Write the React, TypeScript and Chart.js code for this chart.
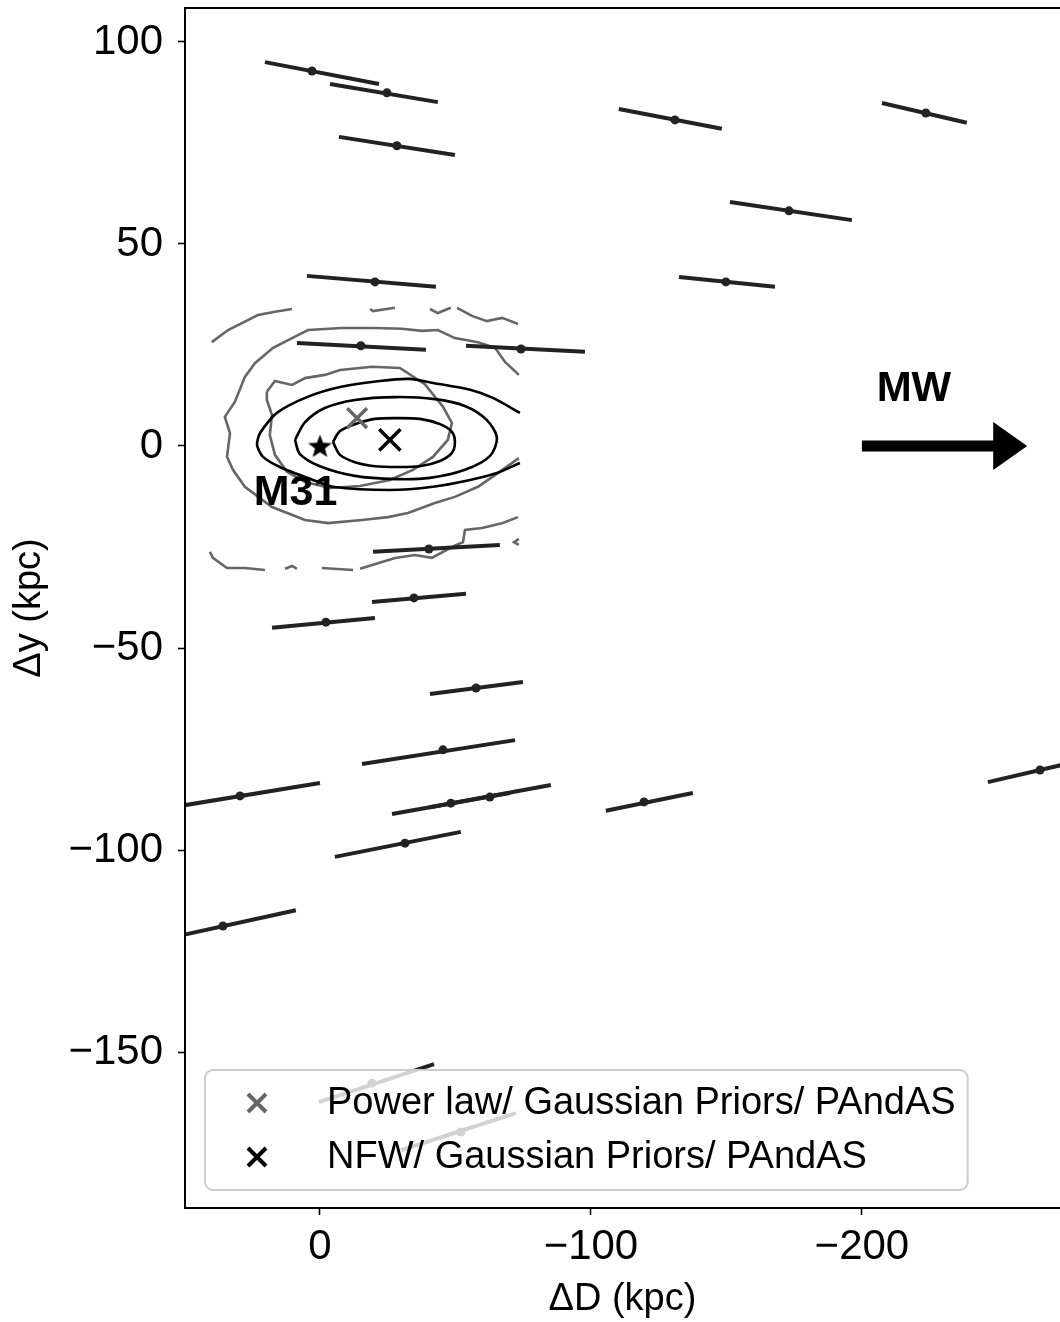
import React, { useEffect, useRef } from 'react';
import { Chart, registerables } from 'chart.js';

Chart.register(...registerables);

// ---------- axes ----------
const X_MIN = -273.1;
const X_MAX = 49.8;
const Y_MIN = -188.6;
const Y_MAX = 108.4;
const xTickValues = [0, -100, -200];
const yTickValues = [100, 50, 0, -50, -100, -150];
const xAxisTitle = 'ΔD (kpc)';
const yAxisTitle = 'Δy (kpc)';

// ---------- satellites (centre + ends of distance error segment) ----------
const satX = [2.95, -24.7, -28.4, -131.0, -223.6, -173.1, -20.3, -149.8, -15.1, -74.2, -40.2, -34.7, -2.2, -57.6, -45.4, 29.5, -48.3, -62.7, -119.6, -31.4, 35.8, -265.7, -19.2, -52.0];
const satY = [92.8, 87.4, 74.3, 80.7, 82.4, 58.2, 40.6, 40.6, 24.8, 24.0, -25.5, -37.6, -43.6, -59.9, -75.2, -86.6, -88.4, -86.9, -88.1, -98.3, -118.8, -80.2, -157.7, -169.8];
const satX1 = [20.3, -3.7, -7.0, -110.3, -207.4, -151.3, 4.8, -132.5, 8.5, -53.9, -19.6, -19.2, 17.7, -40.6, -15.5, 59.0, -26.6, -40.6, -105.5, -5.5, 62.7, -246.5, 0.4, -29.9];
const satY1 = [95.0, 89.6, 76.5, 83.4, 84.9, 60.4, 42.1, 41.8, 25.5, 24.8, -26.2, -38.6, -45.0, -61.4, -78.7, -89.9, -91.1, -89.4, -90.3, -101.7, -122.8, -83.2, -162.4, -174.3];
const satX2 = [-21.8, -43.5, -49.8, -148.3, -238.7, -196.3, -42.8, -167.9, -39.1, -97.8, -66.4, -53.9, -20.3, -74.9, -72.0, 0.0, -70.1, -85.2, -137.6, -52.0, 8.9, -284.9, -42.1, -72.3];
const satY2 = [89.6, 85.1, 72.0, 78.5, 80.0, 55.9, 39.4, 39.4, 23.8, 23.3, -24.5, -36.6, -42.6, -58.4, -72.8, -83.4, -85.9, -83.9, -85.9, -95.5, -114.9, -77.2, -153.0, -165.1];

// ---------- best fits ----------
const m31Pos = [0, 0];
const nfwBest = [-25.8, 1.5];
const powerLawBest = [-13.7, 6.9];

// ---------- NFW contours (black) ----------
const nfwInner = [[-4.8, 1.0], [-7.4, 3.7], [-12.9, 5.4], [-20.3, 6.7], [-28.4, 6.9], [-36.9, 6.7], [-44.3, 5.4], [-48.7, 3.5], [-49.8, 1.0], [-48.7, -1.7], [-44.3, -3.7], [-36.9, -5.0], [-28.4, -5.2], [-20.3, -5.0], [-12.9, -4.0], [-7.4, -2.2]];
const nfwMid = [[9.2, 1.5], [5.5, 5.9], [-1.8, 9.4], [-12.9, 11.4], [-28.0, 12.1], [-42.4, 11.6], [-53.5, 9.9], [-61.6, 6.4], [-65.3, 2.0], [-62.7, -2.5], [-53.5, -5.9], [-40.6, -7.9], [-28.0, -8.2], [-12.9, -7.4], [0, -5.0], [7.4, -2.0]];
const nfwOuter = [[-73.8, 8.2], [-63.8, 11.9], [-55.4, 13.9], [-41.7, 15.6], [-33.2, 16.6], [-22.1, 16.1], [-7.4, 14.6], [4.8, 12.1], [15.9, 8.2], [22.1, 3.2], [23.2, 0.2], [21.0, -2.7], [14.8, -5.2], [2.6, -8.4], [-4.8, -10.1], [-25.8, -10.9], [-41.7, -10.1], [-55.4, -8.4], [-65.3, -6.7], [-73.8, -4.2]];

// ---------- power-law contours (grey) ----------
const plInner = [[19.6, 13.4], [16.6, 16.1], [10.3, 15.1], [5.5, 16.8], [-1.8, 17.6], [-7.4, 18.8], [-19.2, 19.6], [-29.5, 19.3], [-38.7, 15.3], [-45.4, 9.7], [-48.7, 5.7], [-47.2, 1.5], [-41.7, -2.7], [-34.3, -5.9], [-25.8, -8.4], [-14.8, -9.9], [-3.7, -10.4], [5.5, -8.9], [12.2, -6.4], [16.6, -2.2], [18.5, 2.7], [17.7, 7.7], [19.6, 11.4]];
const plMid = [[-73.4, 17.6], [-68.3, 20.8], [-64.6, 24.3], [-58.3, 25.7], [-49.8, 26.7], [-43.5, 28.7], [-37.6, 28.5], [-30.3, 29.0], [-20.3, 29.2], [-8.1, 29.2], [4.4, 28.7], [10.3, 26.7], [17.3, 24.3], [24.0, 20.5], [27.7, 17.1], [31.4, 10.9], [35.1, 7.2], [33.2, 3.2], [34.3, -2.7], [32.1, -5.9], [27.7, -10.1], [17.7, -15.1], [5.5, -18.3], [-3.0, -19.1], [-15.5, -18.3], [-25.1, -17.6], [-32.5, -16.6], [-42.4, -14.1], [-49.8, -12.6], [-58.3, -10.1], [-64.6, -7.2], [-73.4, -3.0]];
const plOuterA = [[39.9, 25.7], [33.9, 28.7], [22.9, 32.4], [16.6, 33.2], [10.3, 33.9]];
const plOuterB = [[-18.5, 33.9], [-19.6, 33.4], [-27.7, 34.2]];
const plOuterC = [[-40.6, 33.9], [-43.5, 32.9], [-48.3, 34.2]];
const plOuterD = [[-50.6, 34.2], [-56.1, 32.2], [-61.6, 30.9], [-67.2, 31.7], [-73.1, 30.2]];
const plOuterE = [[40.6, -26.2], [39.5, -27.7], [34.3, -30.2], [27.7, -30.2], [20.3, -30.7]];
const plOuterF = [[12.9, -30.4], [10.3, -29.7], [8.5, -30.4]];
const plOuterG = [[-0.7, -30.2], [-12.2, -30.7]];
const plOuterH = [[-14.8, -30.4], [-21.4, -29.0], [-27.7, -27.7], [-35.1, -27.0], [-41.3, -27.7], [-48.7, -25.0], [-52.8, -23.8], [-53.5, -20.8], [-59.8, -20.3], [-67.2, -19.1], [-73.1, -17.6]];
const plOuterI = [[-73.4, -23.0], [-71.6, -23.8], [-73.4, -24.5]];

// ---------- annotations ----------
const m31Label = 'M31';
const m31LabelPos = [9.0, -11.6];
const mwLabel = 'MW';
const mwLabelPos = [-219.2, 13.9];
const mwArrowFrom = [-200, 0];
const mwArrowTo = [-261, 0];

// ---------- legend ----------
const legendLabels = ['Power law/ Gaussian Priors/ PAndAS', 'NFW/ Gaussian Priors/ PAndAS'];
const legendColors = ['#666666', '#000000'];

const FONT = '"Liberation Sans", Arial, Helvetica, sans-serif';
const SAT_COLOR = '#222222';
const GREY = '#666666';

// target plot frame on the page
const AREA = { left: 185, top: 8, right: 1060, bottom: 1208 };

const toPts = (arr: number[][]) => arr.map((p) => ({ x: p[0], y: p[1] }));
const closed = (arr: number[][]) => toPts(arr.concat([arr[0]]));
const fmt = (v: any) => {
  const n = Number(v);
  return n < 0 ? '\u2212' + Math.abs(n) : String(n);
};

function makeStar(r: number) {
  const c = document.createElement('canvas');
  const s = Math.ceil(r * 2 + 2);
  c.width = s;
  c.height = s;
  const g = c.getContext('2d')!;
  g.fillStyle = '#000';
  g.beginPath();
  for (let i = 0; i < 10; i++) {
    const rad = i % 2 === 0 ? r : r * 0.42;
    const a = -Math.PI / 2 + (i * Math.PI) / 5;
    g.lineTo(s / 2 + rad * Math.cos(a), s / 2 + 1 + rad * Math.sin(a));
  }
  g.closePath();
  g.fill();
  return c;
}

const decorPlugin = {
  id: 'decor',
  afterDatasetsDraw(chart: any) {
    const ctx = chart.ctx as CanvasRenderingContext2D;
    const xs = chart.scales.x;
    const ys = chart.scales.y;
    const ca = chart.chartArea;
    ctx.save();
    ctx.fillStyle = '#000';
    ctx.textAlign = 'center';
    ctx.textBaseline = 'middle';
    ctx.font = `bold 43px ${FONT}`;
    ctx.fillText(m31Label, xs.getPixelForValue(m31LabelPos[0]), ys.getPixelForValue(m31LabelPos[1]));
    ctx.font = `bold 42px ${FONT}`;
    ctx.fillText(mwLabel, xs.getPixelForValue(mwLabelPos[0]), ys.getPixelForValue(mwLabelPos[1]));
    // arrow
    const ax0 = xs.getPixelForValue(mwArrowFrom[0]);
    const ax1 = xs.getPixelForValue(mwArrowTo[0]);
    const ay = ys.getPixelForValue(mwArrowFrom[1]);
    const headLen = 34;
    const headHalf = 24;
    const shaftHalf = 5.5;
    ctx.beginPath();
    ctx.moveTo(ax0, ay - shaftHalf);
    ctx.lineTo(ax1 - headLen, ay - shaftHalf);
    ctx.lineTo(ax1 - headLen, ay - headHalf);
    ctx.lineTo(ax1, ay);
    ctx.lineTo(ax1 - headLen, ay + headHalf);
    ctx.lineTo(ax1 - headLen, ay + shaftHalf);
    ctx.lineTo(ax0, ay + shaftHalf);
    ctx.closePath();
    ctx.fill();

    // legend
    ctx.font = `38px ${FONT}`;
    const tw = Math.max(...legendLabels.map((t) => ctx.measureText(t).width));
    const lx = ca.left + 20;
    const lh = 120;
    const ly = ca.bottom - 18 - lh;
    const lw = 122 + tw + 12;
    ctx.beginPath();
    (ctx as any).roundRect(lx, ly, lw, lh, 8);
    ctx.fillStyle = 'rgba(255,255,255,0.8)';
    ctx.fill();
    ctx.strokeStyle = '#cccccc';
    ctx.lineWidth = 2;
    ctx.stroke();
    legendLabels.forEach((t, i) => {
      const cy = ly + 33 + i * 54;
      const mx = lx + 52;
      const h = 9;
      ctx.strokeStyle = legendColors[i];
      ctx.lineWidth = 4;
      ctx.beginPath();
      ctx.moveTo(mx - h, cy - h);
      ctx.lineTo(mx + h, cy + h);
      ctx.moveTo(mx + h, cy - h);
      ctx.lineTo(mx - h, cy + h);
      ctx.stroke();
      ctx.fillStyle = '#000';
      ctx.textAlign = 'left';
      ctx.textBaseline = 'middle';
      ctx.fillText(t, lx + 122, cy + 1);
    });
    ctx.restore();
  },
  afterDraw(chart: any) {
    const ctx = chart.ctx as CanvasRenderingContext2D;
    const ca = chart.chartArea;
    ctx.save();
    ctx.strokeStyle = '#000';
    ctx.lineWidth = 2;
    ctx.beginPath();
    ctx.moveTo(ca.right + 2, ca.top);
    ctx.lineTo(ca.left, ca.top);
    ctx.lineTo(ca.left, ca.bottom);
    ctx.lineTo(ca.right + 2, ca.bottom);
    ctx.stroke();
    ctx.restore();
  },
};

const zeroPad = (s: any) => {
  s.paddingLeft = 0;
  s.paddingRight = 0;
  s.paddingTop = 0;
  s.paddingBottom = 0;
};

export default function App() {
  const ref = useRef<HTMLCanvasElement | null>(null);

  useEffect(() => {
    if (!ref.current) return;
    const star = makeStar(12.5);
    const datasets: any[] = [];

    datasets.push({
      data: toPts([nfwBest]),
      pointStyle: 'crossRot',
      pointRadius: 15,
      borderColor: '#000',
      borderWidth: 3.5,
      showLine: false,
    });
    datasets.push({
      data: toPts([powerLawBest]),
      pointStyle: 'crossRot',
      pointRadius: 14,
      borderColor: GREY,
      borderWidth: 3.5,
      showLine: false,
    });
    datasets.push({
      data: toPts([m31Pos]),
      pointStyle: star,
      pointRadius: 12,
      showLine: false,
    });
    datasets.push({
      data: satX.map((x, i) => ({ x, y: satY[i] })),
      pointRadius: 4.5,
      backgroundColor: SAT_COLOR,
      borderWidth: 0,
      showLine: false,
    });
    satX.forEach((_, i) => {
      datasets.push({
        data: [
          { x: satX1[i], y: satY1[i] },
          { x: satX2[i], y: satY2[i] },
        ],
        showLine: true,
        borderColor: SAT_COLOR,
        borderWidth: 4,
        pointRadius: 0,
      });
    });
    const contour = (pts: any[], color: string, tension: number) => ({
      data: pts,
      showLine: true,
      borderColor: color,
      borderWidth: 2.6,
      pointRadius: 0,
      tension,
    });
    datasets.push(contour(closed(nfwInner), '#000', 0.3));
    datasets.push(contour(closed(nfwMid), '#000', 0.3));
    datasets.push(contour(toPts(nfwOuter), '#000', 0.25));
    datasets.push(contour(closed(plInner), GREY, 0));
    datasets.push(contour(toPts(plMid), GREY, 0));
    [plOuterA, plOuterB, plOuterC, plOuterD, plOuterE, plOuterF, plOuterG, plOuterH, plOuterI].forEach((p) => {
      datasets.push(contour(toPts(p), GREY, 0));
    });
    datasets.forEach((d) => {
      d.clip = 0;
    });

    const gridOpts = {
      drawOnChartArea: false,
      drawTicks: true,
      tickLength: 7,
      tickWidth: 1.6,
      tickColor: '#000',
      color: '#000',
    };

    const chart: any = new Chart(ref.current, {
      type: 'scatter',
      data: { datasets },
      options: {
        animation: false,
        responsive: false,
        maintainAspectRatio: false,
        events: [],
        layout: { autoPadding: false, padding: { top: AREA.top, left: 0, right: 0, bottom: 0 } },
        plugins: { legend: { display: false }, tooltip: { enabled: false } },
        scales: {
          x: {
            type: 'linear',
            min: X_MIN,
            max: X_MAX,
            reverse: true,
            afterBuildTicks: (s: any) => {
              s.ticks = xTickValues.slice().sort((a, b) => a - b).map((v) => ({ value: v }));
            },
            afterFit: (s: any) => {
              s.height = 1322 - AREA.bottom;
              zeroPad(s);
            },
            grid: gridOpts,
            border: { display: false },
            ticks: {
              font: { family: FONT, size: 42 },
              color: '#000',
              padding: 7,
              maxRotation: 0,
              autoSkip: false,
              callback: fmt,
            },
            title: {
              display: true,
              text: xAxisTitle,
              font: { family: FONT, size: 38 },
              color: '#000',
              padding: { top: 0, bottom: 0 },
            },
          },
          y: {
            type: 'linear',
            min: Y_MIN,
            max: Y_MAX,
            afterBuildTicks: (s: any) => {
              s.ticks = yTickValues.slice().sort((a, b) => a - b).map((v) => ({ value: v }));
            },
            afterFit: (s: any) => {
              s.width = AREA.left;
              zeroPad(s);
            },
            grid: gridOpts,
            border: { display: false },
            ticks: {
              font: { family: FONT, size: 42 },
              color: '#000',
              padding: 15,
              autoSkip: false,
              callback: fmt,
            },
            title: {
              display: true,
              text: yAxisTitle,
              font: { family: FONT, size: 38 },
              color: '#000',
              padding: { top: 7, bottom: 0 },
            },
          },
        },
      } as any,
      plugins: [decorPlugin],
    });
    return () => chart.destroy();
  }, []);

  return (
    <div style={{ position: 'fixed', left: 0, top: 0, width: 1060, height: 1322, background: '#fff', overflow: 'hidden' }}>
      <canvas ref={ref} width={1060} height={1322} style={{ display: 'block' }} />
    </div>
  );
}
